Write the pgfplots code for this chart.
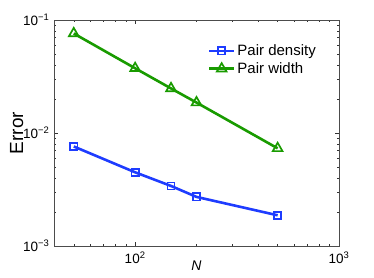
\documentclass[border=0pt]{standalone}
\usepackage{pgfplots}
\pgfplotsset{compat=1.18}
\usepackage{fontspec}
\setmainfont{Liberation Sans}
\definecolor{mblue}{RGB}{30,60,255}
\definecolor{mgreen}{RGB}{25,155,0}
\newcommand{\tn}[1]{10\textsuperscript{−#1}}
\begin{document}
\begin{tikzpicture}
\useasboundingbox (-54pt,-31pt) rectangle (320pt,246pt);
\begin{axis}[
  at={(0,0)}, anchor=south west,
  scale only axis, width=285pt, height=226pt,
  xmode=log, ymode=log,
  xmin=40, xmax=1000, ymin=0.001, ymax=0.1,
  xtick={100,1000}, xticklabels={10\textsuperscript{2},10\textsuperscript{3}},
  ytick={0.001,0.01,0.1}, yticklabels={\tn{3},\tn{2},\tn{1}},
  minor xtick={40,50,60,70,80,90,200,300,400,500,600,700,800,900},
  minor ytick={0.002,0.003,0.004,0.005,0.006,0.007,0.008,0.009,0.02,0.03,0.04,0.05,0.06,0.07,0.08,0.09},
  tick align=inside, major tick length=4pt, minor tick length=2.5pt,
  tick style={black!80, line width=0.5pt},
  axis line style={black!70, line width=0.6pt},
  ticklabel style={font=\fontsize{13.5}{14}\selectfont},
  xticklabel style={yshift=-2pt},
  yticklabel style={xshift=-1pt},
  xlabel={\itshape N}, ylabel={Error},
  xlabel style={font=\fontsize{14}{15}\selectfont, yshift=9pt},
  ylabel style={font=\fontsize{19}{20}\selectfont, yshift=-7pt},
  legend style={draw=none, fill=none, at={(0.93,0.905)}, anchor=north east, font=\fontsize{15}{16}\selectfont, row sep=1.5pt, inner sep=1pt},
  legend cell align=left,
  legend image code/.code={\draw[mark repeat=2,mark phase=2] plot coordinates {(0pt,0pt)(12.5pt,0pt)(25pt,0pt)};},
]
\addplot[mblue, line width=2.6pt, mark=square, mark size=3.6pt, mark options={line width=1.7pt, fill=white}]
  coordinates {(50,0.0076) (100,0.00449) (150,0.0034) (200,0.00272) (500,0.00187)};
\addlegendentry{Pair density}
\addplot[mgreen, line width=2.6pt, mark=triangle, mark size=5.6pt, mark options={line width=1.7pt, fill=white}]
  coordinates {(50,0.076) (100,0.0374) (150,0.0248) (200,0.0186) (500,0.00732)};
\addlegendentry{Pair width}
\end{axis}
\end{tikzpicture}
\end{document}
